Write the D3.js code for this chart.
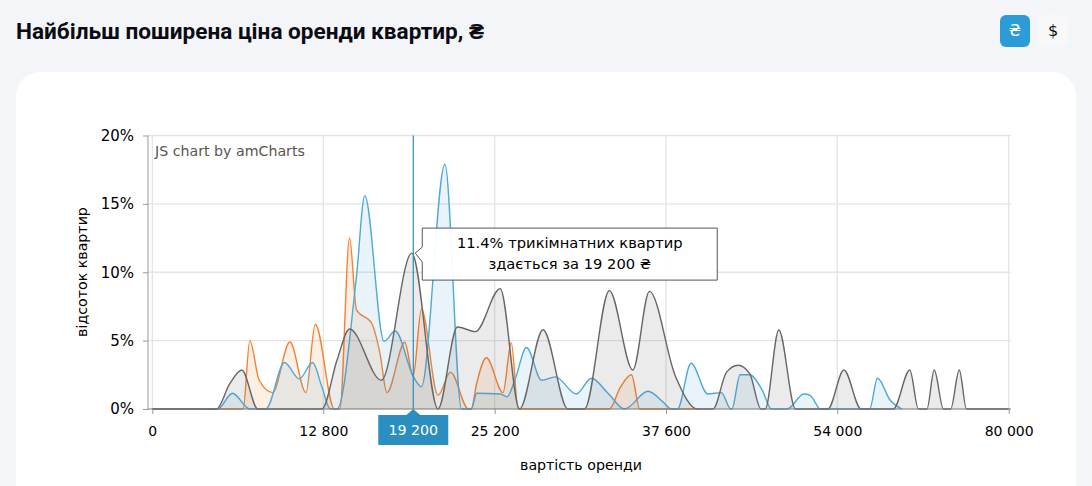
<!DOCTYPE html>
<html>
<head>
<meta charset="utf-8">
<script src="https://cdn.jsdelivr.net/npm/d3@7"></script>
<style>
  html, body { margin: 0; padding: 0; width: 1092px; height: 486px; overflow: hidden; background: #f4f5f9; }
  #page { position: relative; width: 1092px; height: 486px; overflow: hidden; }
  h1 { position: absolute; left: 16px; top: 18px; margin: 0; font: 700 22.6px Roboto, sans-serif; color: #0b0b12; white-space: nowrap; }
  .btn { position: absolute; top: 15px; width: 30px; height: 32px; border-radius: 6px; text-align: center; font: 16px/32px "DejaVu Sans", sans-serif; }
  #uah { left: 1000px; background: #2b9cd8; color: #fff; }
  #usd { left: 1038px; background: #f8f8f8; color: #111; }
  #card { position: absolute; left: 16px; top: 72px; width: 1060px; height: 440px; background: #fff; border-radius: 24px; }
  svg { position: absolute; left: 0; top: 0; }
  text { font-family: "DejaVu Sans", Verdana, sans-serif; font-size: 14.2px; fill: #000; }
</style>
</head>
<body>
<div id="page">
  <h1>Найбільш поширена ціна оренди квартир, ₴</h1>
  <div class="btn" id="uah">₴</div>
  <div class="btn" id="usd">$</div>
  <div id="card"></div>
  <svg id="chart" width="1092" height="486"></svg>
</div>
<script>
// Rent ticks (the axis spaces them evenly, so the scale is piecewise)
var rentTicks = [0, 12800, 25200, 37600, 54000, 80000];
var pctTicks = [0, 5, 10, 15, 20];

// One-room flats
var orangeRent = [3900, 6800, 7300, 8000, 9000, 10300, 11500, 12200, 13600, 14000, 14700, 15200, 16300, 16900, 17400, 18700, 19300, 19900, 21100, 22000, 23300, 23500, 23900, 24600, 25800, 26400, 26900, 33500, 34300, 35100, 35700, 40600];
var orangePct = [0, 0, 5.0, 2.1, 1.2, 4.9, 1.2, 6.2, 0, 0, 12.5, 7.25, 6.27, 4.07, 1.2, 4.88, 2.4, 7.3, 1.0, 2.7, 0, 0, 1.9, 3.75, 1.2, 4.85, 0, 0, 1.6, 2.5, 0, 0];

// Two-room flats
var blueRent = [0, 4900, 6000, 7300, 8500, 9900, 11000, 12000, 12700, 13300, 13800, 15200, 15800, 17200, 18000, 19300, 19900, 21600, 22800, 23500, 23900, 25600, 26100, 26700, 27500, 28600, 29600, 31100, 32200, 33400, 34600, 36300, 37400, 38100, 38700, 40000, 41600, 42900, 43800, 43900, 44700, 45600, 46800, 47700, 49200, 50800, 51400, 52400, 58900, 60100, 62000, 63800];
var bluePct = [0, 0, 1.15, 0, 0, 3.4, 2.2, 3.4, 1.6, 0, 0, 9.7, 15.6, 4.95, 5.7, 2.4, 1.63, 17.9, 0, 0, 1.15, 1.1, 0.9, 2.25, 4.5, 2.1, 2.35, 1.1, 2.25, 1.15, 0, 1.3, 0.5, 0, 0, 3.35, 1.1, 1.2, 0, 0, 2.5, 2.5, 1.4, 0, 0, 1.1, 1.0, 0, 0, 2.25, 0.66, 0];

// Three-room flats
var grayRent = [0, 4800, 5800, 6700, 7900, 12700, 13800, 14700, 17000, 19200, 21100, 22500, 23800, 25600, 27000, 28700, 30500, 31700, 33500, 35200, 36400, 38500, 40600, 42100, 43400, 44500, 45600, 46700, 47100, 48400, 50000, 53100, 55000, 57600, 62500, 65000, 66300, 67600, 68700, 70100, 71200, 72500, 73600, 80000];
var grayPct = [0, 0, 1.85, 2.85, 0, 0, 3.6, 5.85, 2.1, 11.4, 0, 6.0, 5.66, 8.8, 0, 5.8, 0, 0, 8.66, 2.85, 8.6, 2.4, 0, 0, 2.7, 3.2, 2.6, 0, 0, 5.78, 0, 0, 2.85, 0, 0, 2.85, 0, 0, 2.85, 0, 0, 2.85, 0, 0];

var cursorRent = 19200;
var cursorPct = 11.4;
var tooltipLines = ["11.4% трикімнатних квартир", "здається за 19 200 ₴"];

var svg = d3.select("#chart");

var x = d3.scaleLinear().domain(rentTicks).range([152.3, 323.3, 494.7, 666, 837.3, 1008.7]);
var y = d3.scaleLinear().domain([0, 20]).range([409, 135.5]);

function spaced(v) {
  return d3.format(",")(v).replace(/,/g, " ");
}

// Grid
svg.append("g").selectAll("line").data(pctTicks.slice(1)).enter().append("line")
  .attr("x1", 148).attr("x2", 1011)
  .attr("y1", function(d) { return y(d); }).attr("y2", function(d) { return y(d); })
  .attr("stroke", "#e4e4e4").attr("stroke-width", 1.3);
svg.append("g").selectAll("line").data(rentTicks).enter().append("line")
  .attr("x1", function(d) { return x(d); }).attr("x2", function(d) { return x(d); })
  .attr("y1", y(20)).attr("y2", y(0))
  .attr("stroke", "#e4e4e4").attr("stroke-width", 1.3);

svg.append("text").attr("x", 155).attr("y", 156).style("fill", "#555").text("JS chart by amCharts");

// Build one filled, smoothed series
function drawSeries(rents, pcts, color) {
  var points = rents.map(function(r, i) { return [r, pcts[i]]; });
  var area = d3.area().curve(d3.curveMonotoneX)
    .x(function(d) { return x(d[0]); })
    .y0(y(0))
    .y1(function(d) { return y(d[1]); });
  var line = d3.line().curve(d3.curveMonotoneX)
    .x(function(d) { return x(d[0]); })
    .y(function(d) { return y(d[1]); });
  svg.append("path").attr("d", area(points)).attr("fill", color).attr("fill-opacity", 0.13);
  svg.append("path").attr("d", line(points)).attr("fill", "none").attr("stroke", color).attr("stroke-width", 1.4);
}

drawSeries(orangeRent, orangePct, "#f58233");
drawSeries(blueRent, bluePct, "#4fa9d9");
drawSeries(grayRent, grayPct, "#666666");

// Axes
var xAxis = d3.axisBottom(x).tickValues(rentTicks).tickFormat(spaced).tickSize(5).tickPadding(12);
var yAxis = d3.axisLeft(y).tickValues(pctTicks).tickFormat(function(d) { return d + "%"; }).tickSize(5).tickPadding(9);

var gx = svg.append("g").attr("transform", "translate(0," + y(0) + ")").call(xAxis);
gx.select(".domain").remove();
gx.selectAll("line").attr("stroke", "#999");
gx.selectAll("text").style("font-size", "14px");

var gy = svg.append("g").attr("transform", "translate(148,0)").call(yAxis);
gy.select(".domain").remove();
gy.selectAll("line").attr("stroke", "#999");
gy.selectAll("text").style("font-size", "15px");

svg.append("line").attr("x1", 148).attr("x2", 148).attr("y1", y(20)).attr("y2", y(0)).attr("stroke", "#999");
svg.append("line").attr("x1", 148).attr("x2", 1011).attr("y1", y(0)).attr("y2", y(0)).attr("stroke", "#777");

// Axis titles
svg.append("text").attr("text-anchor", "middle").attr("x", 581).attr("y", 470).text("вартість оренди");
svg.append("text").attr("text-anchor", "middle")
  .attr("transform", "translate(87,272) rotate(-90)").text("відсоток квартир");

// Cursor
var cx = x(cursorRent) + 1.5;
svg.append("line").attr("x1", cx).attr("x2", cx).attr("y1", y(20)).attr("y2", y(0))
  .attr("stroke", "#2a8bbb").attr("stroke-width", 1.2);
svg.append("path")
  .attr("d", "M" + (cx - 8) + ",416 L" + cx + ",409 L" + (cx + 8) + ",416 Z")
  .attr("fill", "#2a8fc0");
svg.append("rect").attr("x", cx - 35).attr("y", 415).attr("width", 70).attr("height", 30).attr("fill", "#2a8fc0");
svg.append("text").attr("x", cx).attr("y", 435).attr("text-anchor", "middle").style("fill", "#fff").text(spaced(cursorRent));

// Tooltip
var tipY = y(cursorPct);
var tx = cx + 9, tw = 295, ty = tipY - 25, th = 52;
svg.append("path")
  .attr("d", "M" + tx + "," + ty + " h" + tw + " v" + th + " h" + (-tw) + " V" + (tipY + 9) + " L" + (cx + 2) + "," + tipY + " L" + tx + "," + (tipY - 6) + " Z")
  .attr("fill", "#fff").attr("fill-opacity", 0.95).attr("stroke", "#555").attr("stroke-width", 1);
svg.append("g").selectAll("text").data(tooltipLines).enter().append("text")
  .attr("x", tx + tw / 2)
  .attr("y", function(d, i) { return ty + 20 + i * 21; })
  .attr("text-anchor", "middle")
  .style("font-size", "14.7px")
  .text(function(d) { return d; });
</script>
</body>
</html>
